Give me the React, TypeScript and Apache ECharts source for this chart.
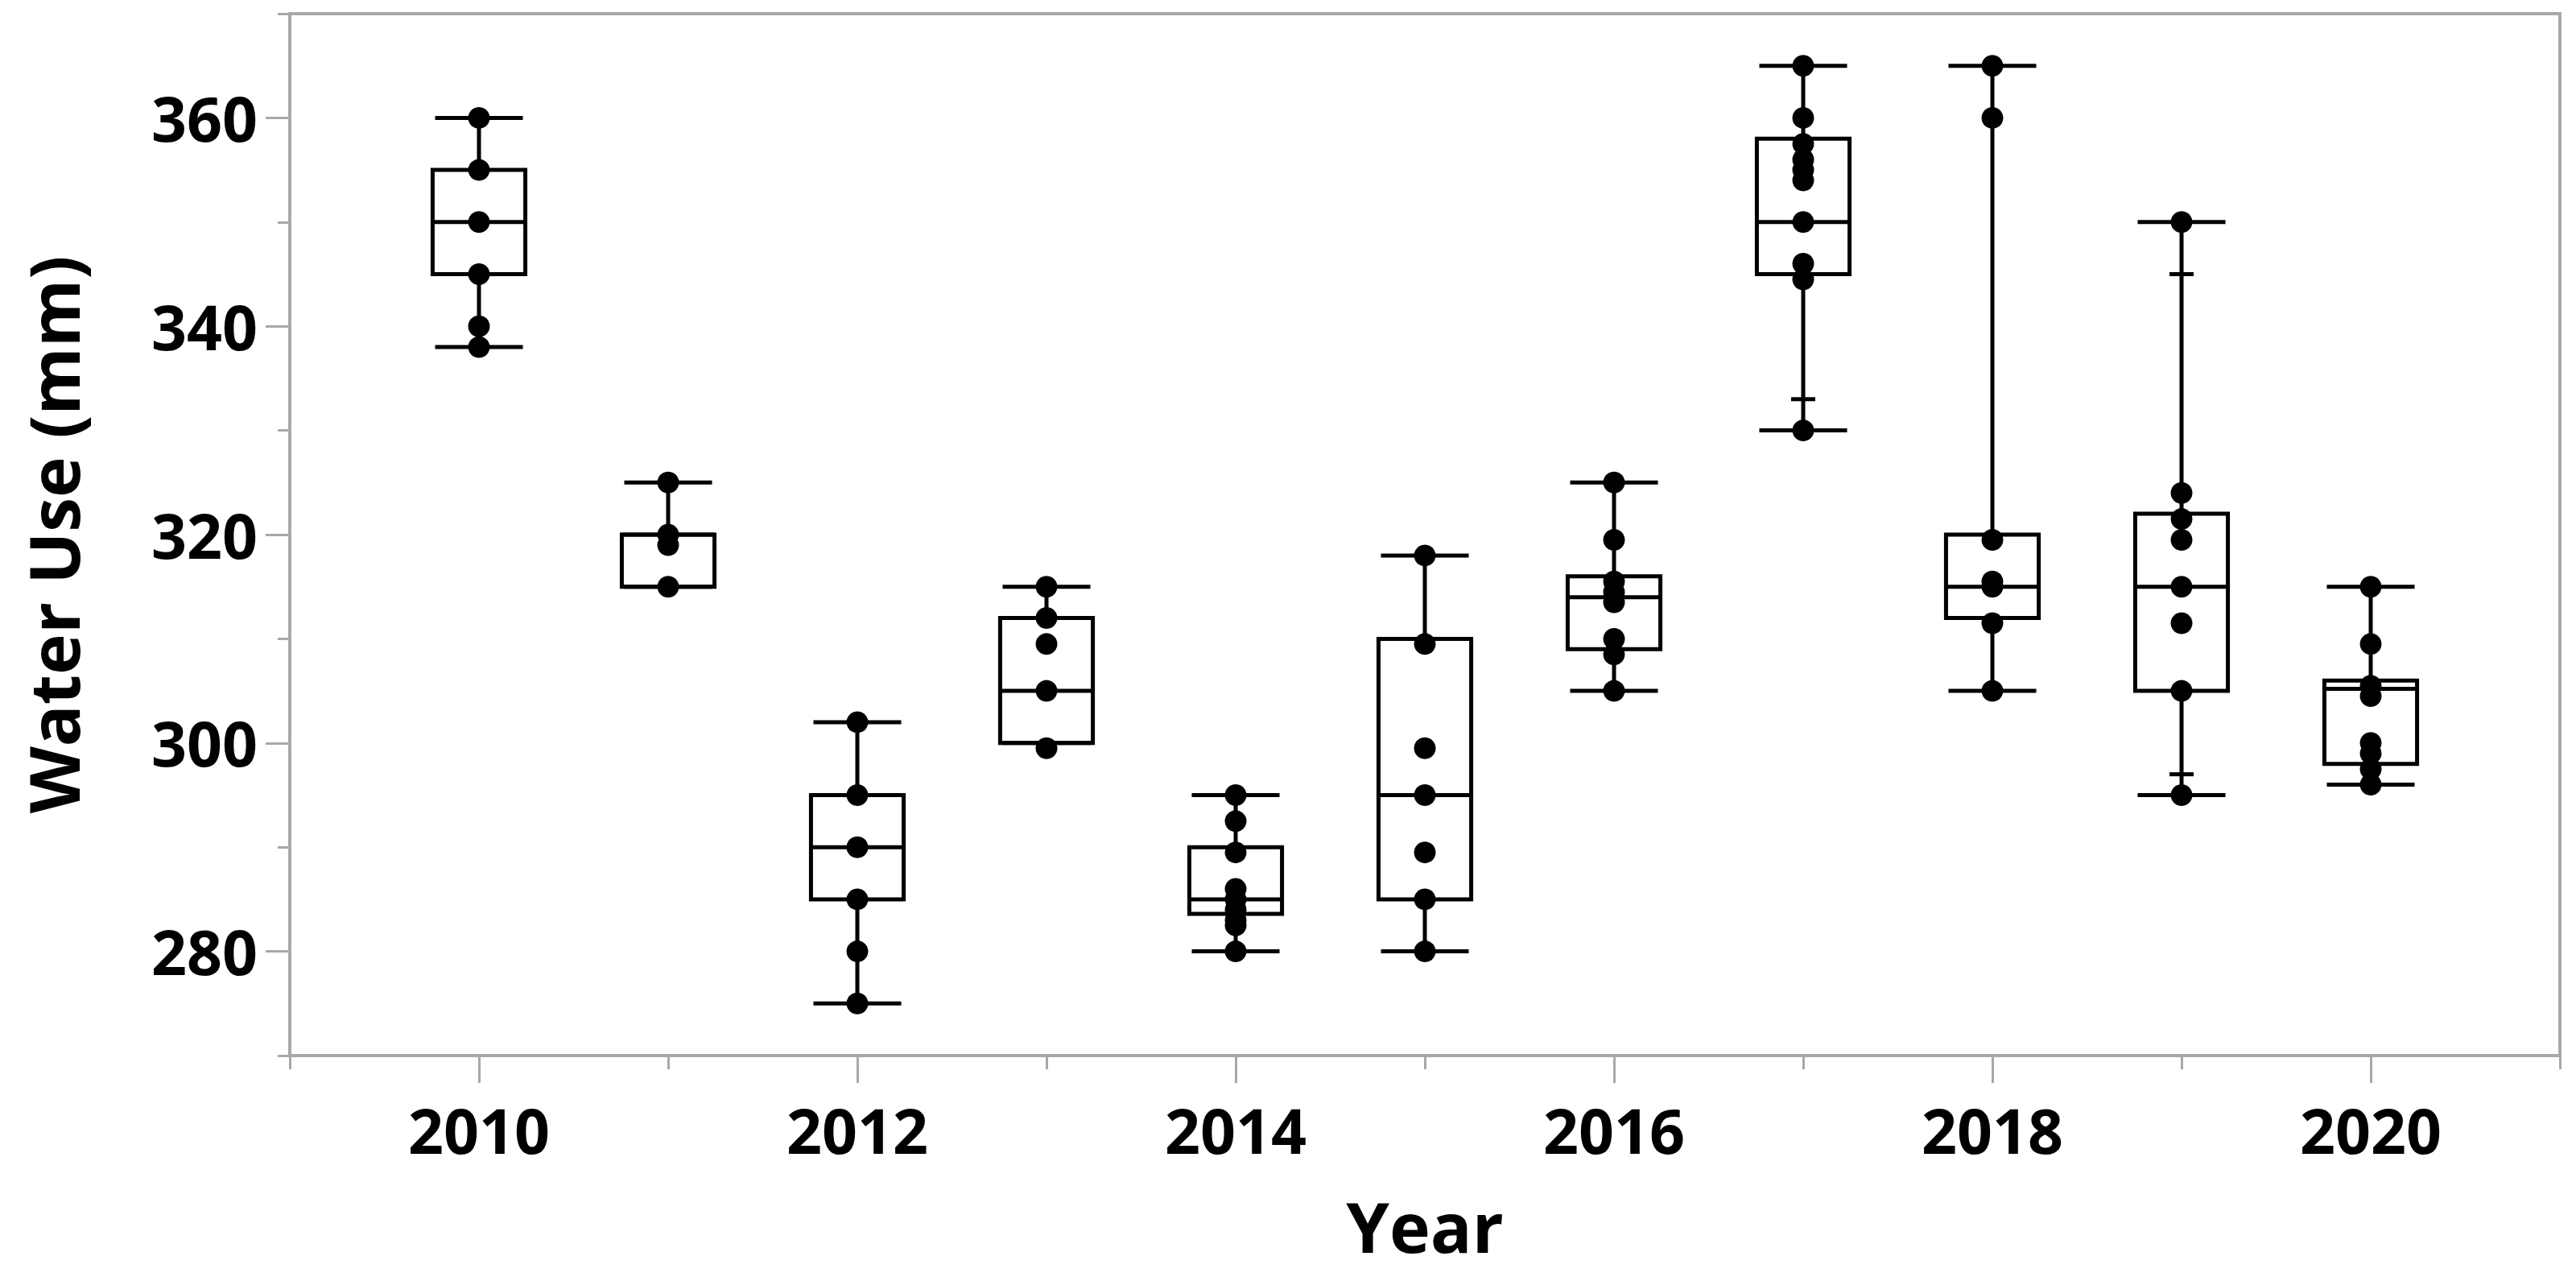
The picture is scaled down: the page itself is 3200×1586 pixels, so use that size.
import React, { useEffect, useRef } from "react";
import * as echarts from "echarts";

const years = [2010, 2011, 2012, 2013, 2014, 2015, 2016, 2017, 2018, 2019, 2020];
const mins = [338, 315, 275, 300, 280, 280, 305, 330, 305, 295, 296];
const q1s = [345, 315, 285, 300, 283.6, 285, 309, 345, 312, 305, 298];
const medians = [350, 320, 290, 305, 285, 295, 314, 350, 315, 315, 305.2];
const q3s = [355, 320, 295, 312, 290, 310, 316, 358, 320, 322, 306];
const maxs = [360, 325, 302, 315, 295, 318, 325, 365, 365, 350, 315];

const points2010 = [360, 355, 350, 345, 340, 338];
const points2011 = [325, 320, 319, 315];
const points2012 = [302, 295, 290, 285, 280, 275];
const points2013 = [315, 312, 309.5, 305, 299.5];
const points2014 = [295, 292.5, 289.5, 286, 285, 284, 283, 282.5, 280];
const points2015 = [318, 309.5, 299.5, 295, 289.5, 285, 280];
const points2016 = [325, 319.5, 315.5, 314.5, 313.5, 310, 308.5, 305];
const points2017 = [365, 360, 357.5, 356, 355, 354, 350, 346, 344.5, 330];
const points2018 = [365, 360, 319.5, 315.5, 315, 311.5, 305];
const points2019 = [350, 324, 321.5, 319.5, 315, 311.5, 305, 295];
const points2020 = [315, 309.5, 305.5, 304.5, 300, 299, 297.5, 296];
const allPoints = [
  points2010, points2011, points2012, points2013, points2014, points2015,
  points2016, points2017, points2018, points2019, points2020,
];

// small quantile marks on whiskers
const markYears = [2017, 2019, 2019];
const markValues = [333, 345, 297];

const xMajorTicks = [2010, 2012, 2014, 2016, 2018, 2020];
const yMajorTicks = [280, 300, 320, 340, 360];

const FONT = "'Open Sans', 'Noto Sans', sans-serif";
const AXIS_GRAY = "#a8a8a8";

export default function App() {
  const ref = useRef<HTMLDivElement>(null);
  useEffect(() => {
    if (!ref.current) return;
    const chart = echarts.init(ref.current, undefined, { renderer: "svg" });

    const boxData = years.map((y, i) => [y, mins[i], q1s[i], medians[i], q3s[i], maxs[i]]);
    const scatterData: number[][] = [];
    years.forEach((y, i) => allPoints[i].forEach((v) => scatterData.push([y, v])));
    const markData = markYears.map((y, i) => [y, markValues[i]]);

    const lineStyle = { stroke: "#000", lineWidth: 5 };

    const option: any = {
      animation: false,
      backgroundColor: "#fff",
      grid: {
        left: 360,
        right: 20,
        top: 17,
        bottom: 275,
        show: true,
        borderColor: AXIS_GRAY,
        borderWidth: 4,
        containLabel: false,
      },
      xAxis: [
        {
          type: "value",
          min: 2009,
          max: 2021,
          interval: 1,
          position: "bottom",
          name: "Year",
          nameLocation: "middle",
          nameGap: 168,
          nameTextStyle: { fontFamily: FONT, fontWeight: "bold", fontSize: 86, color: "#000" },
          axisLine: { show: true, lineStyle: { color: AXIS_GRAY, width: 4 } },
          axisTick: { show: true, length: 17, lineStyle: { color: AXIS_GRAY, width: 3 } },
          axisLabel: {
            show: true,
            margin: 54,
            fontFamily: FONT,
            fontWeight: "bold",
            fontSize: 77,
            color: "#000",
            formatter: (v: number) => (xMajorTicks.indexOf(v) >= 0 ? String(v) : ""),
          },
          splitLine: { show: false },
        },
        {
          type: "value",
          min: 2009,
          max: 2021,
          position: "bottom",
          axisLine: { show: false },
          axisTick: { show: true, length: 34, customValues: xMajorTicks, lineStyle: { color: AXIS_GRAY, width: 3 } },
          axisLabel: { show: false },
          splitLine: { show: false },
        },
      ],
      yAxis: [
        {
          type: "value",
          min: 270,
          max: 370,
          interval: 10,
          position: "left",
          name: "Water Use (mm)",
          nameLocation: "middle",
          nameGap: 252,
          nameTextStyle: { fontFamily: FONT, fontWeight: "bold", fontSize: 86, color: "#000" },
          axisLine: { show: true, lineStyle: { color: AXIS_GRAY, width: 4 } },
          axisTick: { show: true, length: 15, lineStyle: { color: AXIS_GRAY, width: 3 } },
          axisLabel: {
            show: true,
            margin: 40,
            fontFamily: FONT,
            fontWeight: "bold",
            fontSize: 77,
            color: "#000",
            formatter: (v: number) => (yMajorTicks.indexOf(v) >= 0 ? String(v) : ""),
          },
          splitLine: { show: false },
        },
        {
          type: "value",
          min: 270,
          max: 370,
          position: "left",
          axisLine: { show: false },
          axisTick: { show: true, length: 30, customValues: yMajorTicks, lineStyle: { color: AXIS_GRAY, width: 3 } },
          axisLabel: { show: false },
          splitLine: { show: false },
        },
      ],
      series: [
        {
          type: "custom",
          xAxisIndex: 0,
          yAxisIndex: 0,
          data: boxData,
          encode: { x: 0, y: [1, 2, 3, 4, 5] },
          z: 2,
          renderItem: (params: any, api: any) => {
            const x = api.value(0);
            const pLo = api.coord([x, api.value(1)]);
            const pQ1 = api.coord([x, api.value(2)]);
            const pMed = api.coord([x, api.value(3)]);
            const pQ3 = api.coord([x, api.value(4)]);
            const pHi = api.coord([x, api.value(5)]);
            const halfBox = api.size([0.245, 0])[0];
            const halfCap = api.size([0.232, 0])[0];
            const cx = pMed[0];
            return {
              type: "group",
              children: [
                {
                  type: "rect",
                  shape: { x: cx - halfBox, y: pQ3[1], width: 2 * halfBox, height: pQ1[1] - pQ3[1] },
                  style: { fill: "transparent", stroke: "#000", lineWidth: 5 },
                },
                { type: "line", shape: { x1: cx - halfBox, y1: pMed[1], x2: cx + halfBox, y2: pMed[1] }, style: lineStyle },
                { type: "line", shape: { x1: cx, y1: pHi[1], x2: cx, y2: pQ3[1] }, style: lineStyle },
                { type: "line", shape: { x1: cx, y1: pQ1[1], x2: cx, y2: pLo[1] }, style: lineStyle },
                { type: "line", shape: { x1: cx - halfCap, y1: pHi[1], x2: cx + halfCap, y2: pHi[1] }, style: lineStyle },
                { type: "line", shape: { x1: cx - halfCap, y1: pLo[1], x2: cx + halfCap, y2: pLo[1] }, style: lineStyle },
              ],
            };
          },
        },
        {
          type: "custom",
          xAxisIndex: 0,
          yAxisIndex: 0,
          data: markData,
          encode: { x: 0, y: 1 },
          z: 2,
          renderItem: (params: any, api: any) => {
            const p = api.coord([api.value(0), api.value(1)]);
            return {
              type: "line",
              shape: { x1: p[0] - 15, y1: p[1], x2: p[0] + 15, y2: p[1] },
              style: lineStyle,
            };
          },
        },
        {
          type: "scatter",
          xAxisIndex: 0,
          yAxisIndex: 0,
          data: scatterData,
          symbol: "circle",
          symbolSize: 27,
          itemStyle: { color: "#000", opacity: 1 },
          z: 3,
        },
      ],
    };

    chart.setOption(option);
    return () => chart.dispose();
  }, []);

  return (
    <div
      ref={ref}
      style={{ position: "absolute", left: 0, top: 0, width: 3200, height: 1586, background: "#fff" }}
    />
  );
}
